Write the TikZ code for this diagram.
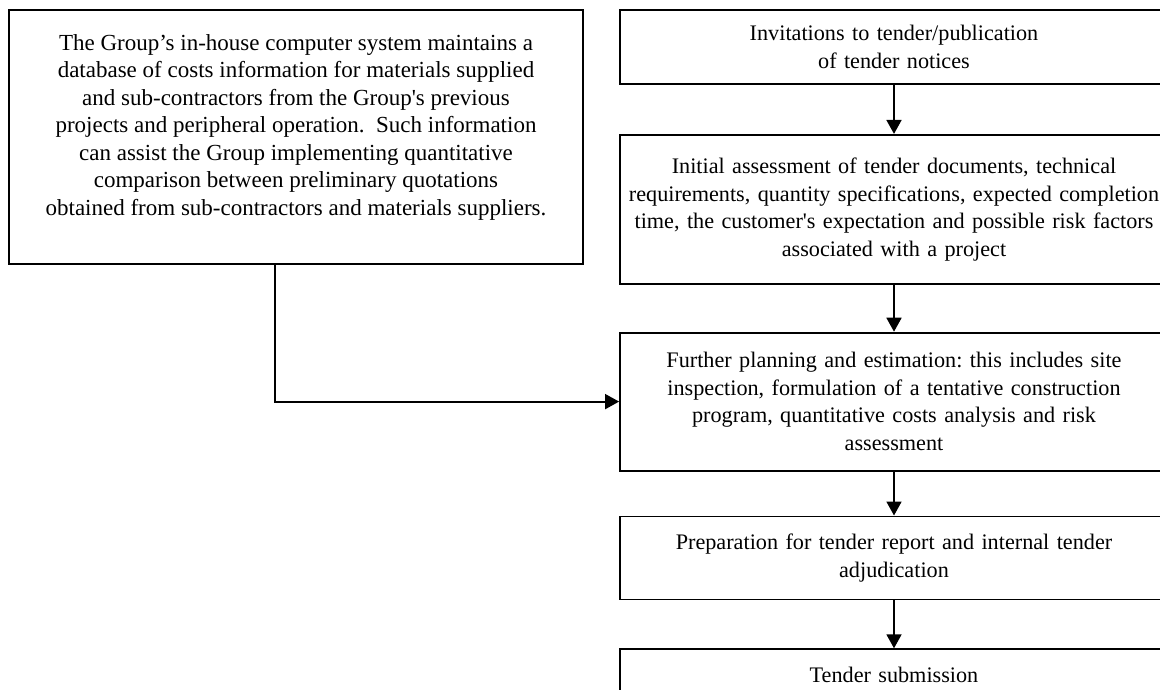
\documentclass[tikz,border=0pt]{standalone}
\usepackage{fontspec}
\setmainfont{Liberation Serif}
\usetikzlibrary{
  arrows.meta,
  positioning
}
\tikzset{
  stepbox/.style={
    draw,
    align=center,
    text width=536pt,
    inner xsep=6pt,
    inner ysep=2pt,
    font=\fontsize{22.2}{27.5}\selectfont
  },
  infobox/.style={
    draw,
    minimum width=574pt,
    minimum height=254pt
  }
}

\begin{document}
\frenchspacing
\begin{tikzpicture}[x=1pt, y=-1pt, line width=1.8pt,
    >={Triangle[length=14pt,width=15pt]},
    font=\fontsize{23}{27.5}\selectfont]
    \useasboundingbox (0,0) rectangle (1160,689);
    \clip (0,0) rectangle (1160,689);

    % left box with the cost database
    \node[infobox] (info) at (296,137) {};
    \node[align=center] (infotext) at ([yshift=10pt]info.center)
    {The Group’s in-house computer system maintains a\\
      database of costs information for materials supplied\\
      and sub-contractors from the Group\textquotesingle s previous\\
      projects and peripheral operation.\ \ Such information\\
      can assist the Group implementing quantitative\\
      comparison between preliminary quotations\\
      obtained from sub-contractors and materials suppliers.};

    % tender steps
    \node[stepbox, minimum height=74pt] (invite) at (894,47)
    {Invitations to tender/publication\\ of tender notices};
    \node[stepbox, minimum height=149pt, below=49pt of invite] (assess)
    {Initial assessment of tender documents, technical\\
      \mbox{requirements, quantity specifications, expected completion}\\
      \mbox{time, the customer\textquotesingle s expectation and possible risk factors}\\
      associated with a project};
    \node[stepbox, minimum height=138pt, below=47pt of assess] (plan)
    {Further planning and estimation: this includes site\\
      inspection, formulation of a tentative construction\\
      program, quantitative costs analysis and risk\\
      assessment};
    \node[stepbox, minimum height=83pt, below=44pt of plan] (prep)
    {Preparation for tender report and internal tender\\
      adjudication};
    \node[stepbox, minimum height=52pt, below=48pt of prep] (submit)
    {Tender submission};

    \draw[->] (invite) -- (assess);
    \draw[->] (assess) -- (plan);
    \draw[->] (plan) -- (prep);
    \draw[->] (prep) -- (submit);

    \draw[->] ([xshift=-21pt]info.south) |- (plan.west);
\end{tikzpicture}
\end{document}
